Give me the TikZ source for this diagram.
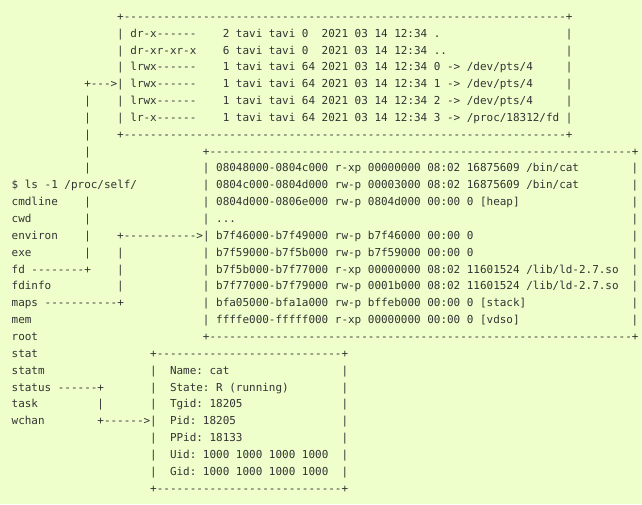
\documentclass[tikz,border=0pt]{standalone}
\usepackage{fontspec}
\setmonofont{DejaVu Sans Mono}
\definecolor{bg}{HTML}{EEFFCC}
\definecolor{ink}{HTML}{333333}
\ExplSyntaxOn
\NewDocumentCommand\dashrun{m}{\prg_replicate:nn{#1}{-}}
\ExplSyntaxOff
\tikzset{txt/.style={anchor=base west, inner sep=0pt, outer sep=0pt,
  font=\ttfamily\fontsize{10.96}{13}\selectfont, text=ink}}
\newcommand\asc[3]{\node[txt] (t#2x#1) at ({11.7+6.596*#1},{-20.3-16.85*#2}) {#3};}
\begin{document}
\begin{tikzpicture}[x=1pt,y=1pt]
\fill[bg] (0,0) rectangle (642,-504);
\useasboundingbox (0,0) rectangle (642,-504);
% box 1
\asc{16}{0}{+\dashrun{67}+}
\asc{16}{1}{|}\asc{18}{1}{dr-x------}\asc{32}{1}{2 tavi tavi 0}\asc{47}{1}{2021 03 14 12:34 .}\asc{84}{1}{|}
\asc{16}{2}{|}\asc{18}{2}{dr-xr-xr-x}\asc{32}{2}{6 tavi tavi 0}\asc{47}{2}{2021 03 14 12:34 ..}\asc{84}{2}{|}
\asc{16}{3}{|}\asc{18}{3}{lrwx------}\asc{32}{3}{1 tavi tavi 64 2021 03 14 12:34 0 -> /dev/pts/4}\asc{84}{3}{|}
\asc{11}{4}{+--->|}\asc{18}{4}{lrwx------}\asc{32}{4}{1 tavi tavi 64 2021 03 14 12:34 1 -> /dev/pts/4}\asc{84}{4}{|}
\asc{11}{5}{|}\asc{16}{5}{|}\asc{18}{5}{lrwx------}\asc{32}{5}{1 tavi tavi 64 2021 03 14 12:34 2 -> /dev/pts/4}\asc{84}{5}{|}
\asc{11}{6}{|}\asc{16}{6}{|}\asc{18}{6}{lr-x------}\asc{32}{6}{1 tavi tavi 64 2021 03 14 12:34 3 -> /proc/18312/fd}\asc{84}{6}{|}
\asc{11}{7}{|}\asc{16}{7}{+\dashrun{67}+}
% box 2
\asc{11}{8}{|}\asc{29}{8}{+\dashrun{64}+}
\asc{11}{9}{|}\asc{29}{9}{|}\asc{31}{9}{08048000-0804c000 r-xp 00000000 08:02 16875609 /bin/cat}\asc{94}{9}{|}
\asc{0}{10}{\$ ls -1 /proc/self/}\asc{29}{10}{|}\asc{31}{10}{0804c000-0804d000 rw-p 00003000 08:02 16875609 /bin/cat}\asc{94}{10}{|}
\asc{0}{11}{cmdline}\asc{11}{11}{|}\asc{29}{11}{|}\asc{31}{11}{0804d000-0806e000 rw-p 0804d000 00:00 0 [heap]}\asc{94}{11}{|}
\asc{0}{12}{cwd}\asc{11}{12}{|}\asc{29}{12}{|}\asc{31}{12}{...}\asc{94}{12}{|}
\asc{0}{13}{environ}\asc{11}{13}{|}\asc{16}{13}{+\dashrun{11}>|}\asc{31}{13}{b7f46000-b7f49000 rw-p b7f46000 00:00 0}\asc{94}{13}{|}
\asc{0}{14}{exe}\asc{11}{14}{|}\asc{16}{14}{|}\asc{29}{14}{|}\asc{31}{14}{b7f59000-b7f5b000 rw-p b7f59000 00:00 0}\asc{94}{14}{|}
\asc{0}{15}{fd \dashrun{8}+}\asc{16}{15}{|}\asc{29}{15}{|}\asc{31}{15}{b7f5b000-b7f77000 r-xp 00000000 08:02 11601524 /lib/ld-2.7.so}\asc{94}{15}{|}
\asc{0}{16}{fdinfo}\asc{16}{16}{|}\asc{29}{16}{|}\asc{31}{16}{b7f77000-b7f79000 rw-p 0001b000 08:02 11601524 /lib/ld-2.7.so}\asc{94}{16}{|}
\asc{0}{17}{maps \dashrun{11}+}\asc{29}{17}{|}\asc{31}{17}{bfa05000-bfa1a000 rw-p bffeb000 00:00 0 [stack]}\asc{94}{17}{|}
\asc{0}{18}{mem}\asc{29}{18}{|}\asc{31}{18}{ffffe000-fffff000 r-xp 00000000 00:00 0 [vdso]}\asc{94}{18}{|}
\asc{0}{19}{root}\asc{29}{19}{+\dashrun{64}+}
% box 3
\asc{0}{20}{stat}\asc{21}{20}{+\dashrun{28}+}
\asc{0}{21}{statm}\asc{21}{21}{|}\asc{24}{21}{Name: cat}\asc{50}{21}{|}
\asc{0}{22}{status \dashrun{6}+}\asc{21}{22}{|}\asc{24}{22}{State: R (running)}\asc{50}{22}{|}
\asc{0}{23}{task}\asc{13}{23}{|}\asc{21}{23}{|}\asc{24}{23}{Tgid: 18205}\asc{50}{23}{|}
\asc{0}{24}{wchan}\asc{13}{24}{+\dashrun{6}>|}\asc{24}{24}{Pid: 18205}\asc{50}{24}{|}
\asc{21}{25}{|}\asc{24}{25}{PPid: 18133}\asc{50}{25}{|}
\asc{21}{26}{|}\asc{24}{26}{Uid: 1000 1000 1000 1000}\asc{50}{26}{|}
\asc{21}{27}{|}\asc{24}{27}{Gid: 1000 1000 1000 1000}\asc{50}{27}{|}
\asc{21}{28}{+\dashrun{28}+}
\end{tikzpicture}
\end{document}
